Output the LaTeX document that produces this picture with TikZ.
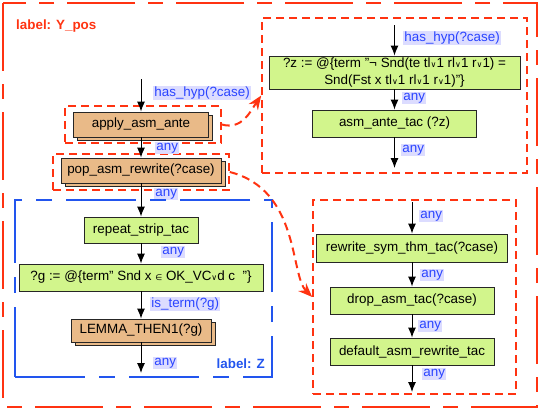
\documentclass[tikz,border=0pt]{standalone}
\usepackage{fontspec}
\setmainfont{Liberation Sans}
\newfontfamily\symfont{DejaVu Sans}
\usepackage{xcolor}
\usepackage{tikz}
\usetikzlibrary{arrows.meta,shadows}
\definecolor{tacgreen}{HTML}{D2F58C}
\definecolor{tacorange}{HTML}{E9BA88}
\definecolor{hypred}{HTML}{FF3311}
\definecolor{grpblue}{HTML}{2255EE}
\definecolor{lblblue}{HTML}{2A44FF}
\definecolor{lblback}{HTML}{DCDCFF}
\newcommand{\disj}{{\symfont\footnotesize ∨}}
\newcommand{\memb}{{\symfont\footnotesize ∈}}

\begin{document}
\begin{tikzpicture}[x=1pt, y=-1pt, font=\fontsize{13.4}{17}\selectfont,
        tac/.style={draw=black!85, fill=tacgreen, line width=0.9pt, inner sep=0pt, align=center},
        multitac/.style={tac, fill=tacorange, copy shadow={shadow xshift=4pt, shadow yshift=-3pt, fill=tacorange, draw=black!85}},
        lbl/.style={fill=lblback, text=lblblue, inner sep=1.2pt, anchor=west},
        hyp/.style={draw=hypred, line width=1.6pt, dash pattern=on 8pt off 5pt, inner sep=0pt},
        grp/.style={draw=grpblue, line width=1.5pt, dash pattern=on 70pt off 14pt on 16pt off 14pt, inner sep=0pt},
        arr/.style={-{Latex[length=10pt,width=8pt]}, line width=1pt},
        hyparr/.style={hypred, line width=2pt, dash pattern=on 8pt off 5pt, -{Stealth[length=14pt,width=11pt]}}]
        \useasboundingbox (0,0) rectangle (540,410);

        % Outer group Y_pos
        \draw[hypred, line width=1.6pt, dash pattern=on 68pt off 13pt on 15pt off 13pt] (3,3) rectangle (537,407);
        \node[anchor=west, inner sep=0pt, text=hypred, font=\fontsize{13.4}{17}\selectfont\bfseries] (ypos) at (16,26) {label: Y\_pos};

        % Hypothesis branch at the top right
        \node[hyp, minimum width=265, minimum height=155] (zbox) at (394.5,95.5) {};
        \coordinate (zin) at (394.5,25);
        \node[tac, minimum width=251, minimum height=33] (z) at (394.5,72.5) {?z := @\{term "¬ Snd(te tl\disj1 rl\disj1 r\disj1) =\\Snd(Fst x tl\disj1 rl\disj1 r\disj1)"\}};
        \node[tac, minimum width=164, minimum height=27] (ante) at (394.5,123.5) {asm\_ante\_tac (?z)};
        \coordinate (zout) at (394.5,168);
        \draw[arr] (zin) -- (z);
        \draw[arr] (z) -- (ante);
        \draw[arr] (ante) -- (zout);
        \node[lbl] (l1) at (403,38) {has\_hyp(?case)};
        \node[lbl] (l2) at (402,98) {any};
        \node[lbl] (l3) at (401,150) {any};

        % Main column on the left
        \coordinate (in) at (141,79);
        \node[hyp, minimum width=156, minimum height=37] (applybox) at (143,124.5) {};
        \node[multitac, minimum width=135, minimum height=25] (apply) at (141,124.5) {apply\_asm\_ante};
        \node[hyp, minimum width=176, minimum height=36] (popbox) at (141,172) {};
        \node[multitac, minimum width=160, minimum height=25] (pop) at (141,170.5) {pop\_asm\_rewrite(?case)};
        \draw[arr] (in) -- (apply);
        \draw[arr] (apply) -- (pop);
        \node[lbl] (l4) at (153,93) {has\_hyp(?case)};
        \node[lbl] (l5) at (155,148) {any};
        \node[lbl] (l6) at (154,194) {any};

        % Group Z
        \node[grp, minimum width=257, minimum height=177] (zgrp) at (143.5,288.5) {};
        \node[tac, minimum width=114, minimum height=26] (strip) at (141,230) {repeat\_strip\_tac};
        \node[tac, minimum width=244, minimum height=27] (g) at (141,277.5) {?g := @\{term" Snd x \memb\ OK\_VC\disj d c \ "\}};
        \node[multitac, minimum width=140, minimum height=23] (lemma) at (141,330.5) {LEMMA\_THEN1(?g)};
        \coordinate (out) at (141,373);
        \draw[arr] (pop) -- (strip);
        \draw[arr] (strip) -- (g);
        \draw[arr] (g) -- (lemma);
        \draw[arr] (lemma) -- (out);
        \node[lbl] (l7) at (161,252) {any};
        \node[lbl] (l8) at (150,304) {is\_term(?g)};
        \node[lbl] (l9) at (153,363) {any};
        \node[anchor=east, inner sep=0pt, text=grpblue, font=\fontsize{13.4}{17}\selectfont\bfseries] (zlab) at (265,364) {label: Z};

        % Rewrite branch at the bottom right
        \node[hyp, minimum width=203, minimum height=194] (rwbox) at (414.5,297) {};
        \coordinate (rwin) at (412,202);
        \node[tac, minimum width=191, minimum height=28] (sym) at (412,248) {rewrite\_sym\_thm\_tac(?case)};
        \node[tac, minimum width=164, minimum height=27] (drop) at (412,300.5) {drop\_asm\_tac(?case)};
        \node[tac, minimum width=164, minimum height=27] (dflt) at (412,351.5) {default\_asm\_rewrite\_tac};
        \coordinate (rwout) at (412,392);
        \draw[arr] (rwin) -- (sym);
        \draw[arr] (sym) -- (drop);
        \draw[arr] (drop) -- (dflt);
        \draw[arr] (dflt) -- (rwout);
        \node[lbl] (l10) at (419,216) {any};
        \node[lbl] (l11) at (420,275) {any};
        \node[lbl] (l12) at (418,326) {any};
        \node[lbl] (l13) at (422,374) {any};

        % Jumps between the groups
        \draw[hyparr] (applybox.east) .. controls (242,130) and (250,112) .. (zbox.west);
        \draw[hyparr] (popbox.east) .. controls (300,190) and (290,275) .. (rwbox.west);
    \end{tikzpicture}
\end{document}
